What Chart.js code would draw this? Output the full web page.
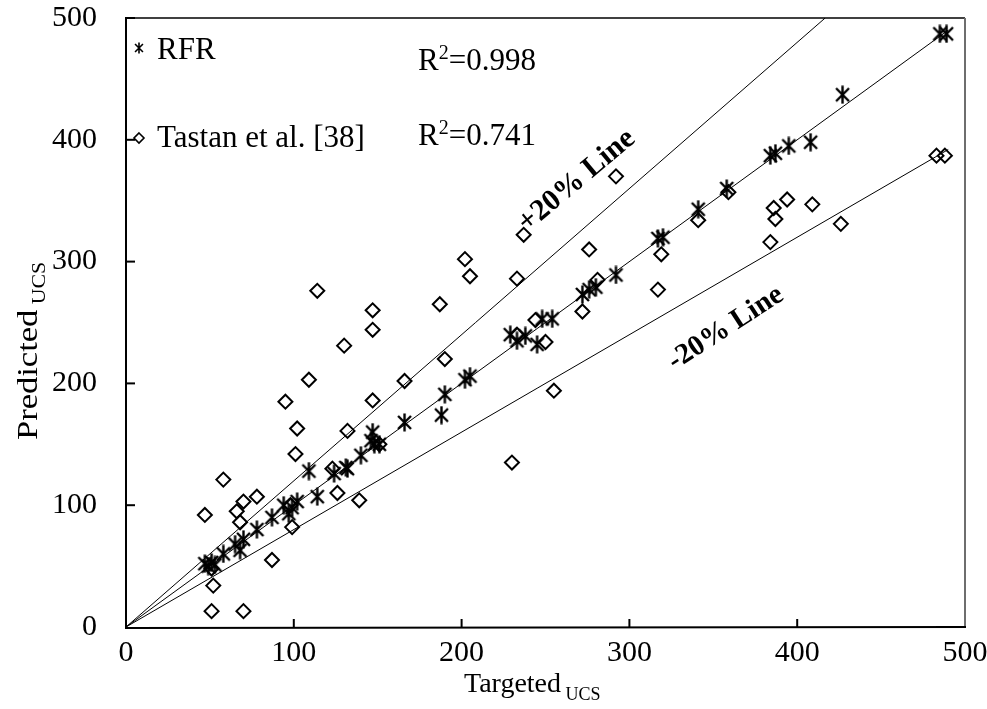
<!DOCTYPE html>
<html>
<head>
<meta charset="utf-8">
<script src="https://cdn.jsdelivr.net/npm/chart.js@4.4.0/dist/chart.umd.min.js"></script>
<style>
  html, body { margin: 0; padding: 0; background: #ffffff; }
  #wrap { width: 987px; height: 709px; }
</style>
</head>
<body>
<div id="wrap"><canvas id="chart" width="987" height="709"></canvas></div>
<script>
// RFR model: targeted vs predicted UCS
const rfrTargeted  = [47, 49, 51, 53, 58, 65, 68, 70, 78, 87, 94, 97, 99, 102, 109, 114, 124, 131, 132, 140,
                      147, 146, 148, 151, 166, 188, 190, 202, 205, 229, 233, 238, 245, 248, 254, 272, 276, 280, 292, 317,
                      320, 341, 358, 384, 387, 395, 408, 427, 485, 489];
const rfrPredicted = [52, 50, 53, 51, 60, 68, 63, 72, 80, 90, 100, 93, 98, 103, 128, 107, 126, 131, 130, 141,
                      160, 153, 150, 150, 168, 174, 191, 203, 206, 240, 235, 239, 232, 253, 253, 273, 277, 279, 289, 319,
                      320, 343, 360, 387, 389, 395, 398, 437, 487, 487];

// Tastan et al. [38]: targeted vs predicted UCS
const tastanTargeted  = [47, 58, 66, 70, 78, 68, 51, 52, 51, 70, 87, 99, 98, 101, 102, 95, 109, 130, 147, 147,
                         132, 126, 139, 123, 151, 166, 190, 230, 233, 244, 250, 114, 147, 187, 202, 205, 237, 233, 292, 276,
                         281, 319, 317, 272, 359, 341, 386, 394, 387, 409, 384, 426, 483, 488, 255];
const tastanPredicted = [92, 121, 95, 103, 107, 86, 48, 34, 13, 13, 55, 82, 100, 142, 163, 185, 203, 231, 244, 186,
                         161, 110, 104, 130, 150, 202, 220, 135, 240, 252, 234, 276, 260, 265, 302, 288, 322, 286, 370, 310,
                         285, 306, 277, 259, 357, 334, 344, 351, 335, 347, 316, 331, 387, 387, 194];

// Reference lines: slope and end of each line (x)
const refSlopes = [1.0, 1.2, 0.8];
const refEndX   = [490, 500 / 1.2, 490];

const axisTicks = [0, 100, 200, 300, 400, 500];
const axisMin = 0, axisMax = 500;

const legendLabels = ['RFR', 'Tastan et al. [38]'];
const r2Labels = ['0.998', '0.741'];
const bandLabels = ['+20% Line', '-20% Line'];

const SERIF = '"Liberation Serif", "Times New Roman", serif';

function zipPoints(xs, ys) {
  return xs.map((x, i) => ({ x: x, y: ys[i] }));
}

// asterisk marker: vertical stroke crossed by an X
function makeStar(size, lw) {
  const c = document.createElement('canvas');
  c.width = size; c.height = size;
  const g = c.getContext('2d');
  const h = size / 2, r = size / 2 - 0.5;
  const d = r * 0.72;
  g.strokeStyle = '#000';
  g.lineWidth = lw;
  g.beginPath();
  g.moveTo(h, h - r); g.lineTo(h, h + r);
  g.moveTo(h - d, h - d); g.lineTo(h + d, h + d);
  g.moveTo(h + d, h - d); g.lineTo(h - d, h + d);
  g.stroke();
  return c;
}
const starMarker = makeStar(19, 2.4);
const starLegend = makeStar(12, 1.6);

const refDatasets = refSlopes.map((s, i) => ({
  type: 'scatter',
  data: [{ x: 0, y: 0 }, { x: refEndX[i], y: refEndX[i] * s }],
  showLine: true,
  borderColor: '#000',
  borderWidth: 1,
  pointRadius: 0,
  pointHoverRadius: 0,
  fill: false,
  order: 3
}));

function drawText(ctx, text, x, y, size, opts) {
  opts = opts || {};
  ctx.font = (opts.weight || 'normal') + ' ' + size + 'px ' + SERIF;
  ctx.fillStyle = '#000';
  ctx.textAlign = opts.align || 'left';
  ctx.textBaseline = 'alphabetic';
  ctx.fillText(text, x, y);
  return ctx.measureText(text).width;
}

const decorPlugin = {
  id: 'decor',
  afterDraw(chart) {
    const ctx = chart.ctx;
    const a = chart.chartArea;
    const xs = chart.scales.x, ys = chart.scales.y;
    ctx.save();

    // frame
    ctx.lineCap = 'butt';
    ctx.strokeStyle = '#000';
    ctx.lineWidth = 1.5;
    ctx.beginPath(); ctx.moveTo(a.left, a.top); ctx.lineTo(a.right, a.top); ctx.stroke();
    ctx.strokeStyle = '#6e6e6e';
    ctx.lineWidth = 2;
    ctx.beginPath(); ctx.moveTo(a.right, a.top); ctx.lineTo(a.right, a.bottom); ctx.stroke();
    ctx.strokeStyle = '#000';
    ctx.lineWidth = 2;
    ctx.beginPath(); ctx.moveTo(a.left, a.top - 1); ctx.lineTo(a.left, a.bottom + 1); ctx.lineTo(a.right + 1, a.bottom); ctx.stroke();

    // inward tick marks
    ctx.lineWidth = 2;
    axisTicks.forEach(v => {
      if (v > axisMin && v < axisMax) {
        const px = xs.getPixelForValue(v);
        ctx.beginPath(); ctx.moveTo(px, a.bottom); ctx.lineTo(px, a.bottom - 8); ctx.stroke();
      }
      if (v > axisMin) {
        const py = ys.getPixelForValue(v);
        ctx.beginPath(); ctx.moveTo(a.left, py); ctx.lineTo(a.left + 9, py); ctx.stroke();
      }
    });

    // legend
    ctx.drawImage(starLegend, 139 - 6, 48 - 6);
    ctx.strokeStyle = '#000';
    ctx.lineWidth = 1.6;
    ctx.beginPath();
    ctx.moveTo(139, 133); ctx.lineTo(144, 138); ctx.lineTo(139, 143); ctx.lineTo(134, 138); ctx.closePath();
    ctx.stroke();
    drawText(ctx, legendLabels[0], 157, 59, 31);
    drawText(ctx, legendLabels[1], 157, 147, 31);

    // coefficient of determination
    [[70, r2Labels[0]], [145, r2Labels[1]]].forEach(([by, val]) => {
      let x = 418;
      x += drawText(ctx, 'R', x, by, 31);
      x += drawText(ctx, '2', x, by - 11, 20);
      drawText(ctx, '=' + val, x, by, 31);
    });

    // band labels along the +/-20% lines
    ctx.save();
    ctx.translate(576, 180);
    ctx.rotate(-40 * Math.PI / 180);
    drawText(ctx, bandLabels[0], 0, 9, 30, { weight: 'bold', align: 'center' });
    ctx.restore();
    ctx.save();
    ctx.translate(725, 327);
    ctx.rotate(-33 * Math.PI / 180);
    drawText(ctx, bandLabels[1], 0, 9, 29, { weight: 'bold', align: 'center' });
    ctx.restore();

    // axis titles with subscripts
    let tx = 464;
    tx += drawText(ctx, 'Targeted', tx, 692, 28);
    drawText(ctx, ' UCS', tx, 700, 18);

    ctx.save();
    ctx.translate(37, 440);
    ctx.rotate(-Math.PI / 2);
    ctx.scale(1.15, 1);
    let ty = 0;
    ty += drawText(ctx, 'Predicted', ty, 0, 30);
    drawText(ctx, ' UCS', ty, 8, 19);
    ctx.restore();

    ctx.restore();
  }
};

const tickFont = { family: SERIF, size: 30 };

new Chart(document.getElementById('chart'), {
  type: 'scatter',
  data: {
    datasets: [
      {
        label: legendLabels[0],
        data: zipPoints(rfrTargeted, rfrPredicted),
        pointStyle: starMarker,
        pointRadius: 9,
        order: 1
      },
      {
        label: legendLabels[1],
        data: zipPoints(tastanTargeted, tastanPredicted),
        pointStyle: 'rectRot',
        pointRadius: 7,
        borderColor: '#000',
        borderWidth: 2,
        backgroundColor: 'rgba(0,0,0,0)',
        order: 2
      },
      ...refDatasets
    ]
  },
  options: {
    responsive: false,
    animation: false,
    devicePixelRatio: 1,
    layout: { padding: { top: 18, right: 22, left: 0, bottom: 0 } },
    plugins: {
      legend: { display: false },
      tooltip: { enabled: false },
      title: { display: false }
    },
    scales: {
      x: {
        type: 'linear',
        min: axisMin, max: axisMax,
        afterBuildTicks: s => { s.ticks = axisTicks.map(v => ({ value: v })); },
        afterFit: s => { s.height = 82; s.paddingLeft = 0; s.paddingRight = 0; s.paddingTop = 0; s.paddingBottom = 0; },
        grid: { display: false, drawTicks: false },
        border: { display: false },
        ticks: { font: tickFont, color: '#000', padding: 8, autoSkip: false, maxRotation: 0 }
      },
      y: {
        type: 'linear',
        min: axisMin, max: axisMax,
        afterBuildTicks: s => { s.ticks = axisTicks.map(v => ({ value: v })); },
        afterFit: s => { s.width = 126; s.paddingLeft = 0; s.paddingRight = 0; s.paddingTop = 0; s.paddingBottom = 0; },
        grid: { display: false, drawTicks: false },
        border: { display: false },
        ticks: { font: tickFont, color: '#000', padding: 29, autoSkip: false }
      }
    }
  },
  plugins: [decorPlugin]
});
</script>
</body>
</html>
